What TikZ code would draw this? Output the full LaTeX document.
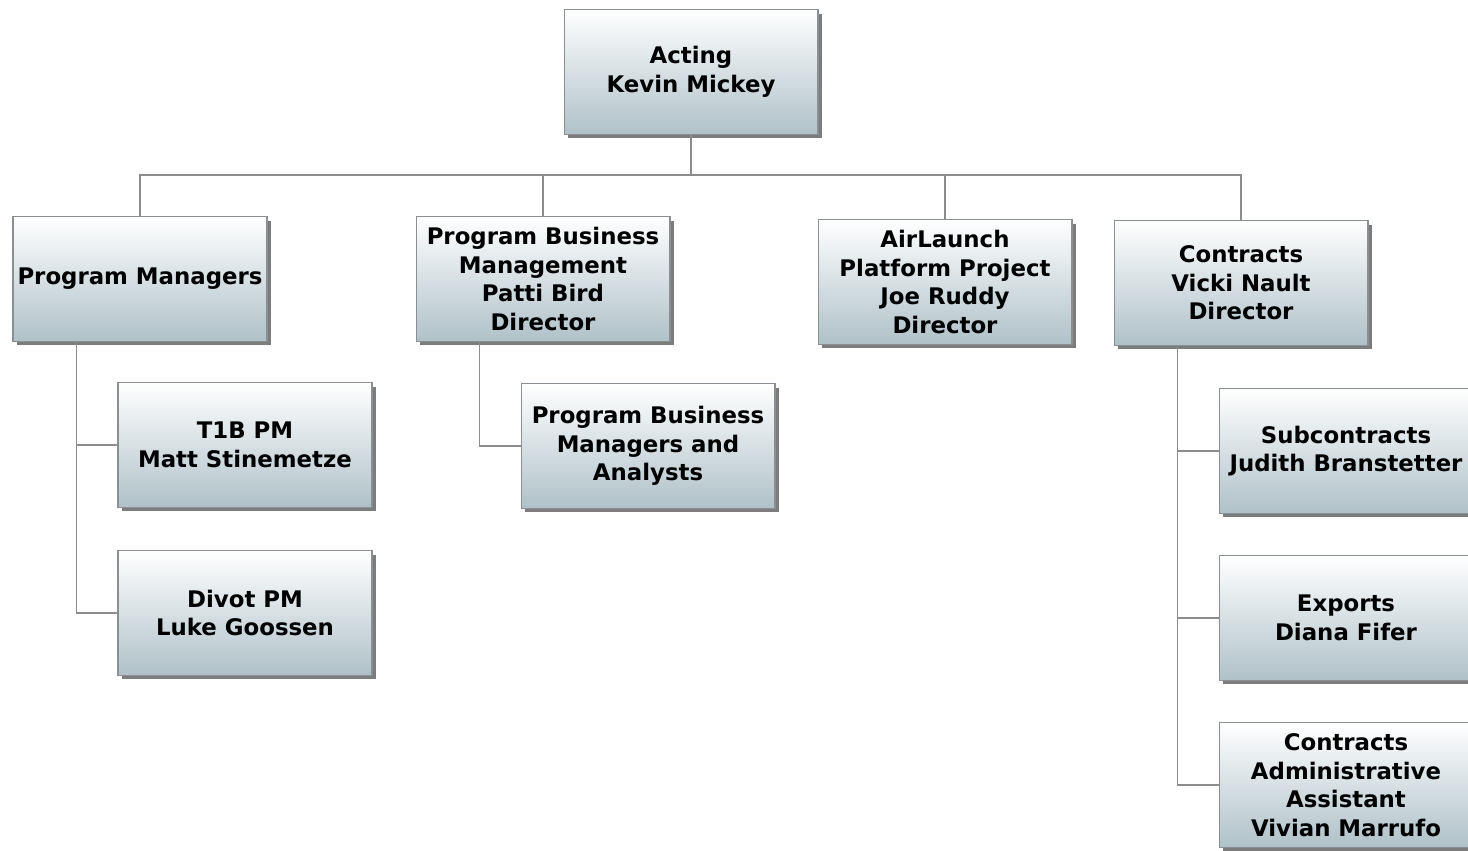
\documentclass[tikz,border=0pt]{standalone}
\usepackage{fontspec}
\setmainfont{DejaVu Sans}
\usetikzlibrary{shadows,calc}
\definecolor{boxbot}{HTML}{AFC1C8}
\definecolor{boxmid}{HTML}{EEF2F3}
\definecolor{edge}{HTML}{8A8F93}
\definecolor{linec}{HTML}{8C8C8C}
\tikzset{
  orgbox/.style={rectangle, draw=edge, line width=0.6pt,
    minimum width=5.08cm, minimum height=2.5cm, inner sep=0pt,
    top color=white, middle color=boxmid, bottom color=boxbot,
    drop shadow={shadow xshift=0.08cm, shadow yshift=-0.08cm, fill=black!60, opacity=0.85},
    align=center, font=\bfseries\fontsize{13}{16.3}\selectfont},
  conn/.style={draw=linec, line width=1.1pt}
}
\begin{document}
\begin{tikzpicture}[x=0.02cm,y=-0.02cm]
\useasboundingbox (0,0) rectangle (1468,851);
\clip (0,0) rectangle (1468,851);
\fill[white] (0,0) rectangle (1468,851);
\node[orgbox] (top) at (691,72) {Acting\\Kevin Mickey};
\node[orgbox] (pm) at (140,279) {Program Managers};
\node[orgbox] (pbm) at (543,279) {Program Business\\Management\\Patti Bird\\Director};
\node[orgbox] (air) at (945,282) {AirLaunch\\Platform Project\\Joe Ruddy\\Director};
\node[orgbox] (con) at (1241,283) {Contracts\\Vicki Nault\\Director};
\node[orgbox] (t1b) at (245,445) {T1B PM\\Matt Stinemetze};
\node[orgbox] (divot) at (245,613) {Divot PM\\Luke Goossen};
\node[orgbox] (pbma) at (648,446) {Program Business\\Managers and\\Analysts};
\node[orgbox] (sub) at (1346,451) {Subcontracts\\Judith Branstetter};
\node[orgbox] (exp) at (1346,618) {Exports\\Diana Fifer};
\node[orgbox] (adm) at (1346,785) {Contracts\\Administrative\\Assistant\\Vivian Marrufo};
\coordinate (bus) at (691,175);
\draw[conn] (top.south) -- (top.south |- bus);
\draw[conn] (pm.north) |- (bus) -| (con.north);
\draw[conn] (pbm.north) -- (pbm.north |- bus);
\draw[conn] (air.north) -- (air.north |- bus);
\coordinate (pmd) at ($(pm.south west)+(64,0)$);
\draw[conn] (pmd) |- (t1b.west);
\draw[conn] (pmd) |- (divot.west);
\coordinate (pbmd) at ($(pbm.south west)+(64,0)$);
\draw[conn] (pbmd) |- (pbma.west);
\coordinate (cond) at ($(con.south west)+(64,0)$);
\draw[conn] (cond) |- (sub.west);
\draw[conn] (cond) |- (exp.west);
\draw[conn] (cond) |- (adm.west);
\end{tikzpicture}
\end{document}
